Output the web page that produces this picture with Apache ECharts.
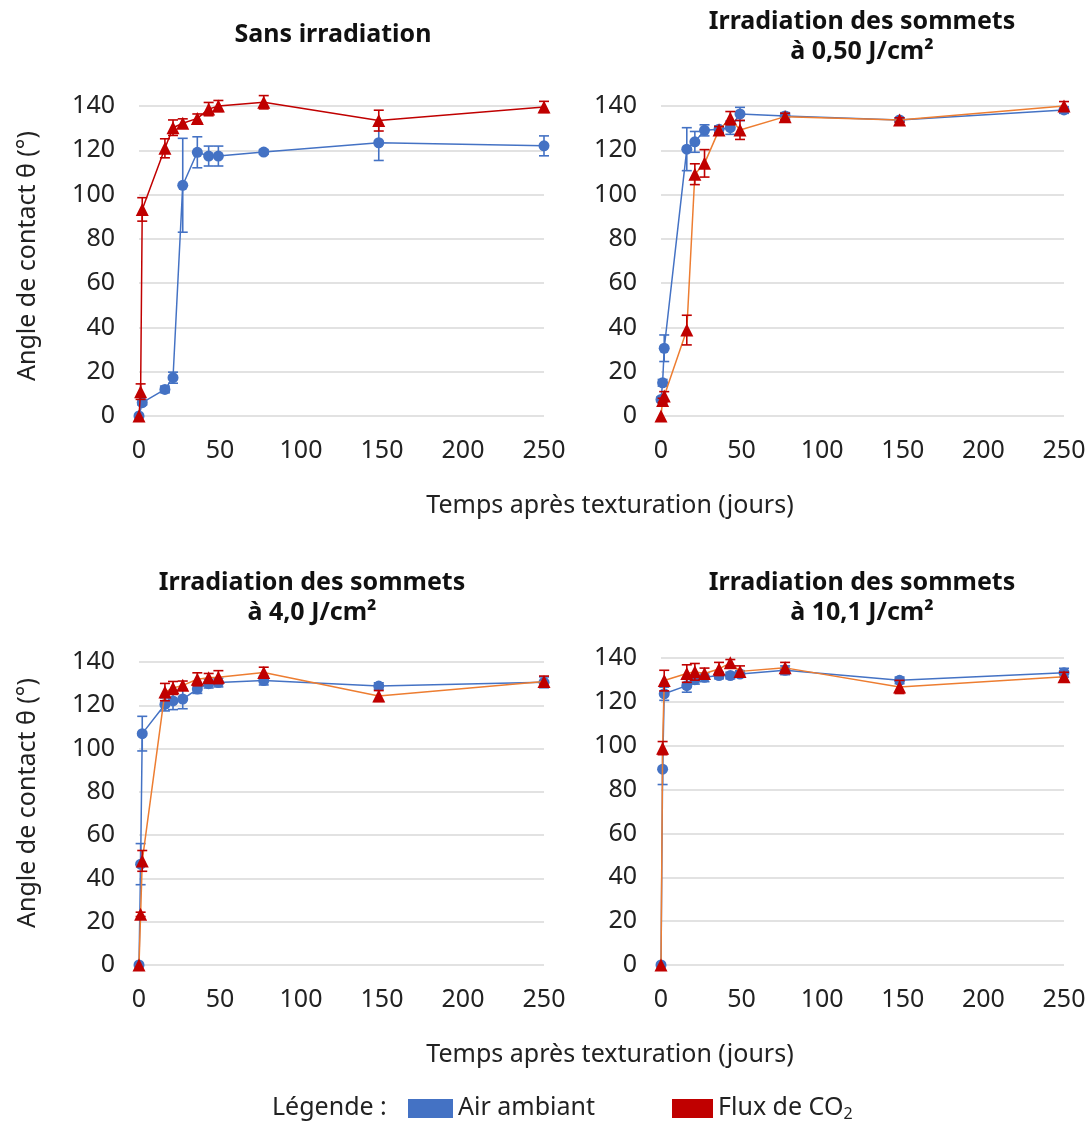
<!DOCTYPE html>
<html><head><meta charset="utf-8">
<script src="https://cdn.jsdelivr.net/npm/echarts@6/dist/echarts.min.js"></script>
<style>html,body{margin:0;padding:0;background:#fff}#c{width:1090px;height:1121px}</style>
</head><body><div id="c"></div>
<script>
const DAYS = [0, 1, 2, 16, 21, 27, 36, 43, 49, 77, 148, 250];
const X_TICKS = [0, 50, 100, 150, 200, 250];
const Y_TICKS = [0, 20, 40, 60, 80, 100, 120, 140];

const TITLES = ['Sans irradiation', 'Irradiation des sommets\nà 0,50 J/cm²', 'Irradiation des sommets\nà 4,0 J/cm²', 'Irradiation des sommets\nà 10,1 J/cm²'];

// Panel 1: Sans irradiation
const p1Air = [0, null, 6, 12, 17.3, 104.2, 119.1, 117.4, 117.4, 119.2, 123.4, 122];
const p1AirErr = [0.5, null, 1, 1.5, 2.5, 21.2, 7, 4.5, 4.5, 1, 8, 4.5];
const p1Co2 = [0, 11, 93.3, 120.9, 130.2, 132.2, 134.4, 138.6, 140, 141.7, 133.4, 139.6];
const p1Co2Err = [0, 3.5, 5.3, 4.3, 3.5, 2, 2, 3, 2.5, 3, 4.7, 2.5];
// Panel 2: 0,50 J/cm2
const p2Air = [7.5, 15, 30.6, 120.5, 123.8, 129, 129.5, 130.2, 136.4, 135.5, 133.7, 138.2];
const p2AirErr = [1, 1.5, 6, 9.7, 4.7, 2.5, 1.5, 3, 3, 1.5, 1, 1.5];
const p2Co2 = [0, 7, 9, 38.8, 109.2, 114.1, 129.2, 134.5, 129.2, 135.2, 133.7, 140];
const p2Co2Err = [0, 1, 2, 6.7, 4.7, 6.2, 1.5, 3, 4.3, 1.5, 1, 2];
// Panel 3: 4,0 J/cm2
const p3Air = [0, 46.6, 106.9, 120.4, 122, 122.9, 127.5, 130, 130.5, 131.4, 128.9, 130.6];
const p3AirErr = [0, 9.5, 8, 3, 4, 4.5, 2, 2, 2, 2, 1.5, 2.5];
const p3Co2 = [0, 23.4, 48.1, 126.1, 128, 129.2, 132, 132.7, 133, 135.1, 124.3, 131];
const p3Co2Err = [0, 1, 4.8, 4, 3, 2, 3, 2, 3, 2.5, 2.5, 2.5];
// Panel 4: 10,1 J/cm2
const p4Air = [0, 89.3, 123.7, 127.4, 130.1, 131.2, 132, 132, 132.7, 134.4, 129.8, 133.3];
const p4AirErr = [0, 7, 3, 3, 2, 2, 1.5, 1.5, 1.5, 2, 1.5, 2];
const p4Co2 = [0, 98.9, 129.7, 132.9, 133.7, 132.9, 135, 137.8, 133.9, 135.5, 126.8, 131.5];
const p4Co2Err = [0, 3, 4.7, 4, 3.8, 2.5, 3, 1.5, 2.5, 2.5, 3, 2];

const BLUE = '#4472C4', RED = '#C00000', ORANGE = '#ED7D31';
const FONT = 'Noto Sans';
const TXT = '#222222';
const FS = 25;

const panels = [
  {air: p1Air, airErr: p1AirErr, co2: p1Co2, co2Err: p1Co2Err, co2Line: RED},
  {air: p2Air, airErr: p2AirErr, co2: p2Co2, co2Err: p2Co2Err, co2Line: ORANGE},
  {air: p3Air, airErr: p3AirErr, co2: p3Co2, co2Err: p3Co2Err, co2Line: ORANGE},
  {air: p4Air, airErr: p4AirErr, co2: p4Co2, co2Err: p4Co2Err, co2Line: ORANGE}
];

const grids = [
  {left: 139, top: 106, width: 405, height: 310},
  {left: 661, top: 106, width: 403, height: 310},
  {left: 139, top: 662, width: 405, height: 303},
  {left: 661, top: 658, width: 403, height: 307}
];

function pts(vals) {
  const out = [];
  vals.forEach((v, i) => { if (v !== null) out.push([DAYS[i], v]); });
  return out;
}
function errs(vals, e) {
  const out = [];
  vals.forEach((v, i) => { if (v !== null && e[i]) out.push([DAYS[i], v - e[i], v + e[i]]); });
  return out;
}
function errRender(color) {
  return function (params, api) {
    const x = api.value(0), lo = api.value(1), hi = api.value(2);
    const a = api.coord([x, hi]), b = api.coord([x, lo]);
    const w = 5;
    const st = {stroke: color, lineWidth: 1.6};
    return {type: 'group', children: [
      {type: 'line', shape: {x1: a[0], y1: a[1], x2: b[0], y2: b[1]}, style: st},
      {type: 'line', shape: {x1: a[0] - w, y1: a[1], x2: a[0] + w, y2: a[1]}, style: st},
      {type: 'line', shape: {x1: b[0] - w, y1: b[1], x2: b[0] + w, y2: b[1]}, style: st}
    ]};
  };
}

const xAxis = [], yAxis = [], series = [];
panels.forEach((p, i) => {
  xAxis.push({type: 'value', gridIndex: i, min: 0, max: 250, interval: 50,
    axisLine: {show: false}, axisTick: {show: false}, splitLine: {show: false},
    axisLabel: {fontFamily: FONT, fontSize: FS, color: TXT, margin: 22}});
  yAxis.push({type: 'value', gridIndex: i, min: 0, max: 140, interval: 20,
    axisLine: {show: false}, axisTick: {show: false},
    splitLine: {show: true, lineStyle: {color: '#D9D9D9', width: 1.5}},
    axisLabel: {fontFamily: FONT, fontSize: FS, color: TXT, margin: 24}});
  series.push({type: 'line', xAxisIndex: i, yAxisIndex: i, data: pts(p.air), connectNulls: true, clip: false,
    symbol: 'circle', symbolSize: 11, lineStyle: {color: BLUE, width: 1.5}, itemStyle: {color: BLUE}, z: 2});
  series.push({type: 'custom', xAxisIndex: i, yAxisIndex: i, data: errs(p.air, p.airErr), clip: false,
    renderItem: errRender(BLUE), encode: {x: 0, y: [1, 2]}, z: 3});
  series.push({type: 'line', xAxisIndex: i, yAxisIndex: i, data: pts(p.co2), connectNulls: true, clip: false,
    symbol: 'triangle', symbolSize: 13, lineStyle: {color: p.co2Line, width: 1.5}, itemStyle: {color: RED}, z: 4});
  series.push({type: 'custom', xAxisIndex: i, yAxisIndex: i, data: errs(p.co2, p.co2Err), clip: false,
    renderItem: errRender(RED), encode: {x: 0, y: [1, 2]}, z: 5});
});

const titleStyle = {fontFamily: FONT, fontSize: FS, fontWeight: 'bold', fill: '#111', align: 'center', lineHeight: 30};
const graphic = [];
const titlePos = [[333, 35], [862, 37], [312, 598], [862, 598]];
TITLES.forEach((t, i) => {
  graphic.push({type: 'text', x: titlePos[i][0], y: titlePos[i][1],
    style: Object.assign({}, titleStyle, {text: t, verticalAlign: 'middle'})});
});
const axisTitle = {fontFamily: FONT, fontSize: FS, fill: TXT, align: 'center', verticalAlign: 'middle'};
graphic.push({type: 'text', x: 28, y: 256, rotation: Math.PI / 2, style: Object.assign({}, axisTitle, {text: 'Angle de contact θ (°)'})});
graphic.push({type: 'text', x: 28, y: 803, rotation: Math.PI / 2, style: Object.assign({}, axisTitle, {text: 'Angle de contact θ (°)'})});
graphic.push({type: 'text', x: 610, y: 506, style: Object.assign({}, axisTitle, {text: 'Temps après texturation (jours)'})});
graphic.push({type: 'text', x: 610, y: 1055, style: Object.assign({}, axisTitle, {text: 'Temps après texturation (jours)'})});
// legend
const legStyle = {fontFamily: FONT, fontSize: FS, fill: TXT, verticalAlign: 'middle', align: 'left'};
graphic.push({type: 'text', x: 272, y: 1108, style: Object.assign({}, legStyle, {text: 'Légende :'})});
graphic.push({type: 'rect', shape: {x: 408, y: 1099, width: 45, height: 19}, style: {fill: BLUE}});
graphic.push({type: 'text', x: 458, y: 1108, style: Object.assign({}, legStyle, {text: 'Air ambiant'})});
graphic.push({type: 'rect', shape: {x: 672, y: 1099, width: 41, height: 19}, style: {fill: RED}});
graphic.push({type: 'text', x: 718, y: 1108, style: Object.assign({}, legStyle, {
  text: '{a|Flux de CO}{b|2}',
  rich: {a: {fontFamily: FONT, fontSize: FS, color: TXT}, b: {fontFamily: FONT, fontSize: 16, color: TXT, padding: [12, 0, 0, 0]}}
})});

const chart = echarts.init(document.getElementById('c'), null, {renderer: 'canvas'});
chart.setOption({
  animation: false,
  backgroundColor: '#ffffff',
  grid: grids,
  xAxis: xAxis,
  yAxis: yAxis,
  series: series,
  graphic: graphic
});
</script>
</body></html>
